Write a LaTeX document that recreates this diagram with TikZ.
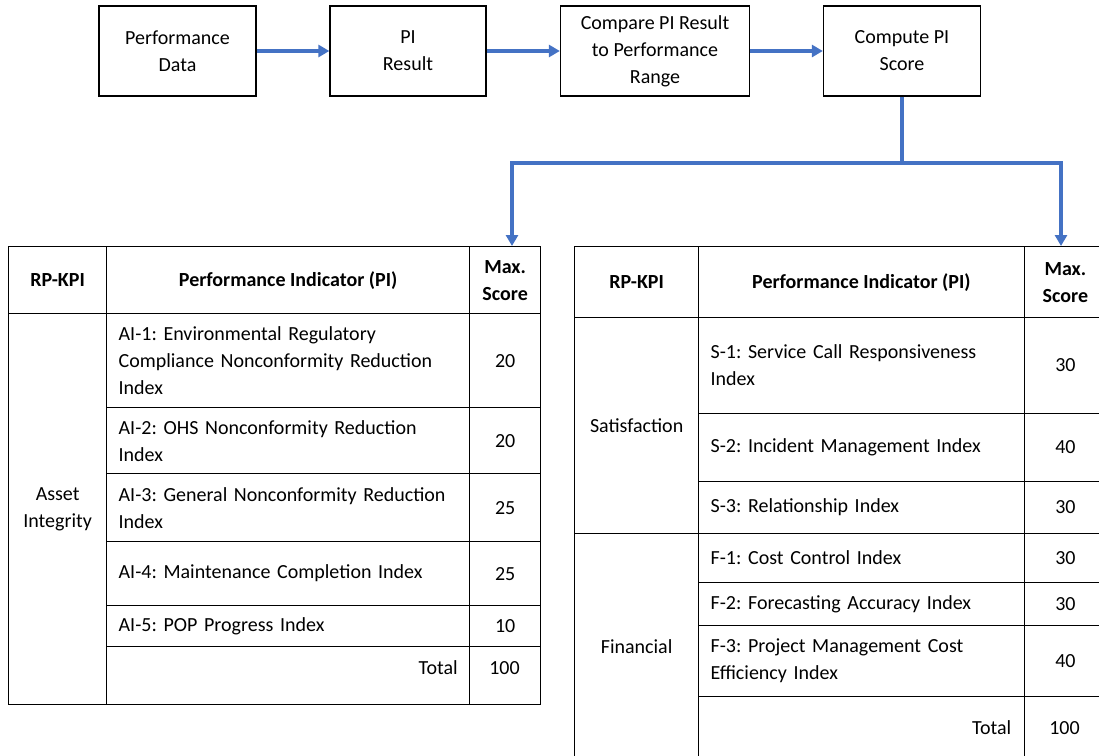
\documentclass[tikz,border=0pt]{standalone}
\usepackage{fontspec}
\setmainfont{Carlito}
\usetikzlibrary{arrows.meta,positioning}
\definecolor{flowBlue}{HTML}{4472C4}

\begin{document}
\begin{tikzpicture}[x=1pt, y=-1pt, font=\fontsize{20}{27}\selectfont\frenchspacing,
  >={Triangle[length=11pt,width=12pt]},
  stage/.style={draw, line width=1.3pt, align=center, inner sep=0pt, minimum height=90pt},
  cell/.style={draw, line width=1.3pt, anchor=north west, inner sep=0pt, align=center},
  headcell/.style={cell, font=\fontsize{20}{27}\selectfont\bfseries},
  picell/.style={cell, align=left, inner xsep=12pt},
  txt/.style={inner sep=0pt},
  flow/.style={flowBlue, line width=4pt}]
\clip[use as bounding box] (0,0) rectangle (1099,755);
% --- process chain ---
\node[stage, minimum width=157pt] (data) at (177.5,51) {Performance\\Data};
\node[stage, minimum width=156pt] (result) at (408,51) {PI\\Result};
\node[stage, minimum width=189pt] (compare) at (655,51) {Compare PI Result\\to Performance\\Range};
\node[stage, minimum width=157pt] (score) at (902,51) {Compute PI\\Score};
\draw[flow,->] (data) -- (result);
\draw[flow,->] (result) -- (compare);
\draw[flow,->] (compare) -- (score);
% --- split to the tables ---
\coordinate (split) at (902,162.5);
\coordinate (ltop) at (512,246);
\coordinate (rtop) at (1061,246);
% --- asset integrity table ---
\node[headcell, minimum width=98pt, minimum height=67pt] (lh1) at (8,246) {RP-KPI};
\node[headcell, minimum width=363pt, minimum height=67pt] (lh2) at (106,246) {Performance Indicator (PI)};
\node[headcell, minimum width=71pt, minimum height=67pt] (lh3) at (469,246) {Max.\\Score};
\node[cell, minimum width=98pt, minimum height=391pt] (asset) at (8,313) {Asset\\Integrity};
\foreach \y/\h/\txt/\sc [count=\i] in {
  313/94/{AI-1: Environmental Regulatory\\Compliance Nonconformity Reduction\\Index}/20,
  407/66/{AI-2: OHS Nonconformity Reduction\\Index}/20,
  473/68/{AI-3: General Nonconformity Reduction\\Index}/25,
  541/64/{AI-4: Maintenance Completion Index}/25,
  605/41/{AI-5: POP Progress Index}/10} {
  \node[picell, text width=339pt, minimum height=\h pt] (ai\i) at (106,\y) {\txt};
  \node[cell, minimum width=71pt, minimum height=\h pt] (aiS\i) at (469,\y) {\sc};
}
\node[cell, minimum width=363pt, minimum height=58pt] (lsum) at (106,646) {};
\node[cell, minimum width=71pt, minimum height=58pt] (lsumS) at (469,646) {};
\node[txt, anchor=east] (ltotal) at (458,668) {Total};
\node[txt] (ltotalS) at (504.5,668) {100};
% --- satisfaction / financial table ---
\node[headcell, minimum width=124pt, minimum height=71pt] (rh1) at (574,246) {RP-KPI};
\node[headcell, minimum width=325.5pt, minimum height=71pt] (rh2) at (698,246) {Performance Indicator (PI)};
\node[headcell, minimum width=82.5pt, minimum height=71pt] (rh3) at (1023.5,246) {Max.\\Score};
\node[cell, minimum width=124pt, minimum height=215.7pt] (satis) at (574,317) {Satisfaction};
\node[cell, minimum width=124pt, minimum height=226.3pt] (finan) at (574,532.7) {Financial};
\foreach \y/\h/\txt/\sc/\n in {
  317/95.7/{S-1: Service Call Responsiveness\\Index}/30/s1,
  412.7/68/{S-2: Incident Management Index}/40/s2,
  480.7/52/{S-3: Relationship Index}/30/s3,
  532.7/49/{F-1: Cost Control Index}/30/f1,
  581.7/43.3/{F-2: Forecasting Accuracy Index}/30/f2,
  625/70.5/{F-3: Project Management Cost\\Efficiency Index}/40/f3} {
  \node[picell, text width=301.5pt, minimum height=\h pt] (\n) at (698,\y) {\txt};
  \node[cell, minimum width=82.5pt, minimum height=\h pt] (\n S) at (1023.5,\y) {\sc};
}
\node[cell, minimum width=325.5pt, minimum height=63.5pt] (rsum) at (698,695.5) {};
\node[cell, minimum width=82.5pt, minimum height=63.5pt] (rsumS) at (1023.5,695.5) {};
\node[txt, anchor=east] (rtotal) at (1011.5,728) {Total};
\node[txt] (rtotalS) at (1064.5,728) {100};
% --- connectors ---
\draw[flow] (score.south) -- (split);
\draw[flow,->] (split) -| (ltop);
\draw[flow,->] (split) -| (rtop);
\end{tikzpicture}
\end{document}
